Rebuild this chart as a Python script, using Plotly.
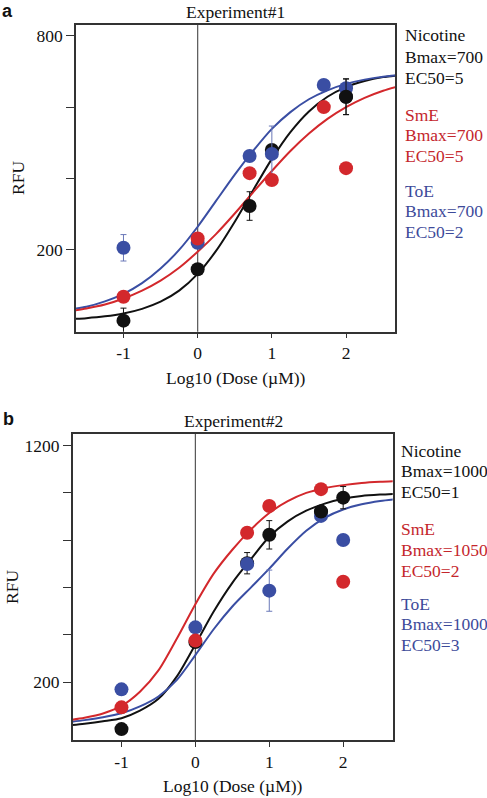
import plotly.graph_objects as go

# ---------------- Panel a (Experiment#1) ----------------
a_nic_x = [-1, 0, 0.7, 1, 2]
a_nic_y = [2, 146, 323, 480, 629]
a_nic_err = [35, 0, 40, 0, 50]
a_nic_front = [2]

a_sme_x = [-1, 0, 0.7, 1, 1.7, 2]
a_sme_y = [69, 232, 415, 396, 600, 429]

a_toe_x = [-1, 0, 0.7, 1, 1.7, 2]
a_toe_y = [206, 220, 463, 469, 662, 653]
a_toe_err = [37, 0, 0, 78, 0, 0]

curve_x = [-1.75, -1.5, -1.25, -1.0, -0.75, -0.5, -0.25, 0.0, 0.25, 0.5,
           0.75, 1.0, 1.25, 1.5, 1.75, 2.0, 2.25, 2.5, 2.75]
a_curve_nic = [6, 9, 14, 22, 35, 55, 86, 133, 198, 279, 368, 455, 530, 588, 629, 656, 673, 684, 690]
a_curve_sme = [28, 36, 47, 64, 86, 114, 150, 195, 245, 302, 362, 421, 477, 526, 567, 600, 626, 646, 661]
a_curve_toe = [33, 41, 56, 77, 107, 148, 200, 265, 338, 411, 478, 539, 586, 622, 647, 665, 677, 685, 690]

a_text = [["Nicotine", "Bmax=700", "EC50=5"],
          ["SmE", "Bmax=700", "EC50=5"],
          ["ToE", "Bmax=700", "EC50=2"]]

# ---------------- Panel b (Experiment#2) ----------------
b_nic_x = [-1, 0, 0.7, 1, 1.7, 2]
b_nic_y = [2, 370, 703, 823, 921, 980]
b_nic_err = [0, 0, 45, 60, 0, 47]
b_nic_front = [1.7]

b_sme_x = [-1, 0, 0.7, 1, 1.7, 2]
b_sme_y = [94, 376, 832, 945, 1016, 625]

b_toe_x = [-1, 0, 0.7, 1, 1.7, 2]
b_toe_y = [170, 432, 700, 587, 903, 801]
b_toe_err = [0, 0, 0, 87, 0, 0]

b_curve_nic = [17, 25, 35, 48, 80, 130, 225, 360, 500, 620, 720, 815, 880, 925, 955, 975, 987, 993, 997]
b_curve_sme = [38, 50, 68, 100, 160, 250, 385, 530, 660, 760, 845, 915, 965, 1000, 1020, 1033, 1042, 1047, 1050]
b_curve_toe = [30, 40, 52, 69, 98, 140, 210, 315, 425, 520, 600, 680, 765, 840, 895, 930, 952, 966, 975]

b_text = [["Nicotine", "Bmax=1000", "EC50=1"],
          ["SmE", "Bmax=1050", "EC50=2"],
          ["ToE", "Bmax=1000", "EC50=3"]]

x_ticks = [-1, 0, 1, 2]
x_ticktext = ["-1", "0", "1", "2"]
a_yticks = [200, 400, 600, 800]
a_yticktext = ["200", "", "", "800"]
b_yticks = [200, 400, 600, 800, 1000, 1200]
b_yticktext = ["200", "", "", "", "", "1200"]

# ---------------- styling ----------------
BLACK = "#111111"
RED = "#d3282c"
BLUE = "#3a4ea3"
TXT_RED = "#c4262c"
TXT_BLUE = "#3d4a9a"
ERR_BLUE = "#6a78b8"
SERIF = "Liberation Serif, Times New Roman, serif"
FS = 17.5

W, H = 487, 798
ML, MR, MT, MB = 72, 92, 25, 58
PW, PH = W - ML - MR, H - MT - MB


def px(xp):
    return (xp - ML) / PW


def py(yp):
    return (H - MB - yp) / PH


fig = go.Figure()


def add_panel(xa, ya, cn, cs, ct, nx, ny, ne, nfront, sx, sy, tx, ty, te):
    for ys, col in [(cn, BLACK), (ct, BLUE), (cs, RED)]:
        fig.add_trace(go.Scatter(x=curve_x, y=ys, mode="lines", xaxis=xa, yaxis=ya,
                                 line=dict(color=col, width=2, shape="spline", smoothing=0.8),
                                 showlegend=False, hoverinfo="skip"))
    fig.add_trace(go.Scatter(x=nx, y=ny, mode="markers", xaxis=xa, yaxis=ya,
                             marker=dict(color=BLACK, size=14),
                             error_y=dict(type="data", array=ne, color=BLACK, thickness=1, width=3),
                             showlegend=False))
    fig.add_trace(go.Scatter(x=tx, y=ty, mode="markers", xaxis=xa, yaxis=ya,
                             marker=dict(color=BLUE, size=14),
                             error_y=dict(type="data", array=te, color=ERR_BLUE, thickness=1, width=3),
                             showlegend=False))
    fig.add_trace(go.Scatter(x=sx, y=sy, mode="markers", xaxis=xa, yaxis=ya,
                             marker=dict(color=RED, size=14),
                             showlegend=False))
    idx = [i for i, v in enumerate(nx) if v in nfront]
    fig.add_trace(go.Scatter(x=[nx[i] for i in idx], y=[ny[i] for i in idx], mode="markers",
                             xaxis=xa, yaxis=ya, marker=dict(color=BLACK, size=14),
                             error_y=dict(type="data", array=[ne[i] for i in idx], color=BLACK,
                                          thickness=1, width=3),
                             showlegend=False))


add_panel("x", "y", a_curve_nic, a_curve_sme, a_curve_toe,
          a_nic_x, a_nic_y, a_nic_err, a_nic_front, a_sme_x, a_sme_y, a_toe_x, a_toe_y, a_toe_err)
add_panel("x2", "y2", b_curve_nic, b_curve_sme, b_curve_toe,
          b_nic_x, b_nic_y, b_nic_err, b_nic_front, b_sme_x, b_sme_y, b_toe_x, b_toe_y, b_toe_err)

axis_common = dict(showline=True, mirror=True, linecolor="#333333", linewidth=1.5,
                   showgrid=False, zeroline=False, ticks="outside", tickcolor="#333333",
                   automargin=False,
                   tickfont=dict(family=SERIF, size=FS, color="#111111"))

fig.update_layout(
    width=W, height=H, margin=dict(l=ML, r=MR, t=MT, b=MB, autoexpand=False),
    paper_bgcolor="white", plot_bgcolor="white", showlegend=False,
    xaxis=dict(domain=[px(76), px(395)], range=[-1.64, 2.66], tickvals=x_ticks,
               ticktext=x_ticktext, ticklen=5, anchor="y", **axis_common),
    yaxis=dict(domain=[py(331.7), py(25)], range=[-29, 830], tickvals=a_yticks,
               ticktext=a_yticktext, ticklen=8, anchor="x", **axis_common),
    xaxis2=dict(domain=[px(72.7), px(392.7)], range=[-1.66, 2.67], tickvals=x_ticks,
                ticktext=x_ticktext, ticklen=5, anchor="y2", **axis_common),
    yaxis2=dict(domain=[py(740), py(434)], range=[-44, 1249], tickvals=b_yticks,
                ticktext=b_yticktext, ticklen=8, anchor="x2", **axis_common),
)

# vertical line at dose 0
for xr, yr in [("x", "y domain"), ("x2", "y2 domain")]:
    fig.add_shape(type="line", xref=xr, yref=yr, x0=0, x1=0, y0=0, y1=1,
                  line=dict(color="#555555", width=1.2), layer="below")

annots = []
txtfont = dict(family=SERIF, size=FS, color="#111111")
# panel letters and titles
annots.append(dict(text="<b>a</b>", x=px(0), y=py(11), xanchor="left", yanchor="middle",
                   font=dict(family="Liberation Sans, Arial, sans-serif", size=18, color="#111111")))
annots.append(dict(text="<b>b</b>", x=px(1), y=py(419), xanchor="left", yanchor="middle",
                   font=dict(family="Liberation Sans, Arial, sans-serif", size=18, color="#111111")))
annots.append(dict(text="Experiment#1", x=px(235.5), y=py(11.5), xanchor="center", yanchor="middle",
                   font=txtfont))
annots.append(dict(text="Experiment#2", x=px(233), y=py(421), xanchor="center", yanchor="middle",
                   font=txtfont))
# axis titles
annots.append(dict(text="Log10 (Dose (µM))", x=px(236), y=py(378), xanchor="center",
                   yanchor="middle", font=txtfont))
annots.append(dict(text="Log10 (Dose (µM))", x=px(233), y=py(786), xanchor="center",
                   yanchor="middle", font=txtfont))
annots.append(dict(text="RFU", x=px(18), y=py(178), xanchor="center", yanchor="middle",
                   textangle=-90, font=txtfont))
annots.append(dict(text="RFU", x=px(12), y=py(587), xanchor="center", yanchor="middle",
                   textangle=-90, font=txtfont))

colors = ["#111111", TXT_RED, TXT_BLUE]
a_rows = [[35, 57, 78], [115, 135, 156], [191, 211, 232]]
b_rows = [[450.7, 471, 492], [529, 550, 570.7], [604, 624, 645]]
for texts, rows, x0 in [(a_text, a_rows, 403), (b_text, b_rows, 399)]:
    for grp, ys, col in zip(texts, rows, colors):
        for t, yy in zip(grp, ys):
            annots.append(dict(text=t, x=px(x0), y=py(yy), xanchor="left", yanchor="middle",
                               font=dict(family=SERIF, size=FS, color=col)))

for an in annots:
    an.update(xref="paper", yref="paper", showarrow=False)
fig.update_layout(annotations=annots)

fig.write_html("out.html", config={"displayModeBar": False},
               post_script="document.body.style.margin='0px';")
